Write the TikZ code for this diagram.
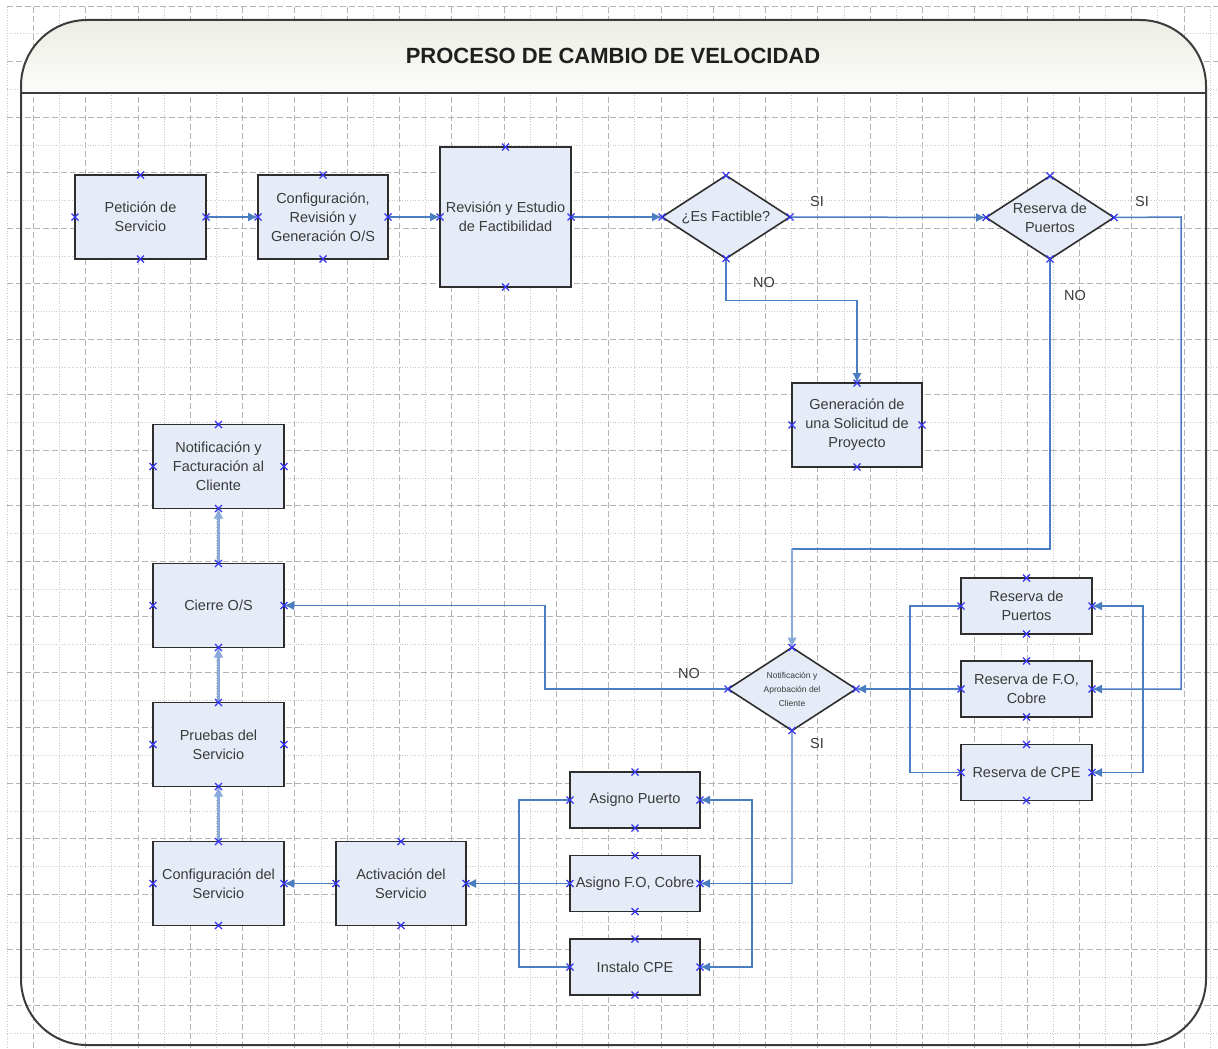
\documentclass[tikz,border=0pt]{standalone}
\usepackage{fontspec}
\setmainfont{Liberation Sans}
\usetikzlibrary{arrows.meta,shapes.geometric}

\definecolor{gridmaj}{HTML}{B4B4B4}
\definecolor{gridmin}{HTML}{C8C8C8}
\definecolor{framecol}{HTML}{3C3C3C}
\definecolor{boxfill}{HTML}{E6ECF7}
\definecolor{boxline}{HTML}{2E2E2E}
\definecolor{flow}{HTML}{4A7EC0}
\definecolor{flowsoft}{HTML}{88AADB}
\definecolor{pin}{HTML}{3434F2}
\definecolor{txt}{HTML}{3A3A3A}
\definecolor{bandtop}{HTML}{ECEDE4}
\definecolor{bandbot}{HTML}{FCFCFA}

\begin{document}
\begin{tikzpicture}[x=1pt,y=-1pt,
  txtfont/.style={font=\fontsize{14.5}{19}\selectfont},
  box/.style={rectangle, draw=boxline, line width=1.6, fill=boxfill,
    inner sep=0, outer sep=0, align=center, text=txt, txtfont,
    minimum width=131, minimum height=84},
  slim/.style={minimum height=56},
  decision/.style={diamond, draw=boxline, line width=1.6, fill=boxfill,
    inner sep=0, outer sep=0, minimum width=128, minimum height=83},
  dtext/.style={txtfont, text=txt, align=center},
  flowline/.style={draw=flow, line width=1.5},
  arr/.style={flowline, -{Latex[length=10,width=9]}},
  biarr/.style={flowline, {Latex[length=10,width=9]}-{Latex[length=10,width=9]}},
  softline/.style={draw=flowsoft, line width=2.8},
  softarr/.style={softline, -{Latex[length=10,width=10]}},
  lbl/.style={txtfont, text=txt},
  pinmark/.style={draw=pin, line width=1.2},
  gmaj/.style={draw=gridmaj, line width=1, dash pattern=on 6pt off 3pt},
  gmin/.style={draw=gridmin, line width=0.9, dash pattern=on 1pt off 1.6pt},
]
\useasboundingbox (0,0) rectangle (1218,1049);
\fill[white] (0,0) rectangle (1218,1049);

% background grid
\foreach \i in {0,...,46}{
  \pgfmathsetmacro\gx{7.3+26.15*\i}
  \ifodd\i \draw[gmaj] (\gx,7) -- (\gx,1049); \else \draw[gmin] (\gx,7) -- (\gx,1049); \fi
}
\foreach \j in {0,...,37}{
  \pgfmathsetmacro\gy{6.2+27.75*\j}
  \ifodd\j \draw[gmin] (7,\gy) -- (1218,\gy); \else \draw[gmaj] (7,\gy) -- (1218,\gy); \fi
}

% frame with shaded title band
\begin{scope}
  \clip[rounded corners=66] (21,20) rectangle (1206,1045);
  \shade[top color=bandtop, bottom color=bandbot] (21,20) rectangle (1206,93);
\end{scope}
\draw[framecol, line width=2.2] (21,93) -- (1206,93);
\draw[framecol, line width=2, rounded corners=66] (21,20) rectangle (1206,1045);
\node[font=\bfseries\fontsize{22}{26}\selectfont, text=black!88] (title) at (613,56) {PROCESO DE CAMBIO DE VELOCIDAD};

% top row
\node[box] (pet) at (140.5,217) {Petición de\\Servicio};
\node[box, minimum width=130] (conf) at (323,217) {Configuración,\\Revisión y\\Generación O/S};
\node[box, minimum height=140] (rev) at (505.5,217) {Revisión y Estudio\\de Factibilidad};
\node[decision, label={[dtext]center:¿Es Factible?}] (fact) at (726,217) {};
\node[decision, label={[dtext]center:{Reserva de\\Puertos}}] (resd) at (1050,217.5) {};
\node[box, minimum width=130] (gen) at (857,425) {Generación de\\una Solicitud de\\Proyecto};

% left column
\node[box] (notf) at (218.5,466.5) {Notificación y\\Facturación al\\Cliente};
\node[box] (cierre) at (218.5,605.5) {Cierre O/S};
\node[box] (prue) at (218.5,744.5) {Pruebas del\\Servicio};
\node[box] (confs) at (218.5,883.5) {Configuración del\\Servicio};
\node[box, minimum width=130] (act) at (401,883.5) {Activación del\\Servicio};

% assignment group
\node[box, slim, minimum width=130] (apu) at (635,800) {Asigno Puerto};
\node[box, slim, minimum width=130] (afo) at (635,883.5) {Asigno F.O, Cobre};
\node[box, slim, minimum width=130] (icpe) at (635,967) {Instalo CPE};

% approval and reservation group
\node[decision, label={[align=center, text=txt, font=\fontsize{8.5}{14}\selectfont]center:{Notificación y\\Aprobación del\\Cliente}}] (notd) at (792,689) {};
\node[box, slim] (rpu) at (1026.5,606) {Reserva de\\Puertos};
\node[box, slim] (rfo) at (1026.5,689) {Reserva de F.O,\\Cobre};
\node[box, slim] (rcpe) at (1026.5,772.5) {Reserva de CPE};

% routing points
\coordinate (siR) at (1181,217);
\coordinate (j1) at (792,549);
\coordinate (j2) at (792,883.5);
\coordinate (noL) at (545,689);

% connectors
\draw[arr] (pet.east) -- (conf.west);
\draw[arr] (conf.east) -- (rev.west);
\draw[arr] (rev.east) -- (fact.west);
\draw[arr] (fact.east) -- (resd.west);
\draw[arr] (fact.south) -- ++(0,42) -| (gen.north);
\draw[arr] (resd.east) -- (siR) |- (rfo.east);
\draw[flowline] (resd.south) |- (j1);
\draw[softarr] (j1) -- (notd.north);
\draw[arr] (rfo.west) -- (notd.east);
\draw[flowline] (rpu.west) -- ++(-51,0) |- (rcpe.west);
\draw[biarr] (rpu.east) -- ++(51,0) |- (rcpe.east);
\draw[softline] (notd.south) -- (j2);
\draw[arr] (j2) -- (afo.east);
\draw[arr] (notd.west) -- (noL) |- (cierre.east);
\draw[flowline] (apu.west) -- ++(-51,0) |- (icpe.west);
\draw[biarr] (apu.east) -- ++(52,0) |- (icpe.east);
\draw[arr] (afo.west) -- (act.east);
\draw[arr] (act.west) -- (confs.east);
\draw[softarr] (confs.north) -- (prue.south);
\draw[softarr] (prue.north) -- (cierre.south);
\draw[softarr] (cierre.north) -- (notf.south);

% branch labels
\node[lbl] (si1) at (817,202) {SI};
\node[lbl] (no1) at (764,283) {NO};
\node[lbl] (si2) at (1142,202) {SI};
\node[lbl] (no2) at (1075,296) {NO};
\node[lbl] (no3) at (689,674) {NO};
\node[lbl] (si3) at (817,744) {SI};

% connection pins
\foreach \n in {pet,conf,rev,fact,resd,gen,notf,cierre,prue,confs,act,apu,afo,icpe,notd,rpu,rfo,rcpe}{
  \foreach \a in {north,south,east,west}{
    \draw[pinmark] (\n.\a) +(-3.5,-3.5) -- +(3.5,3.5) +(-3.5,3.5) -- +(3.5,-3.5);
  }
}
\end{tikzpicture}
\end{document}
